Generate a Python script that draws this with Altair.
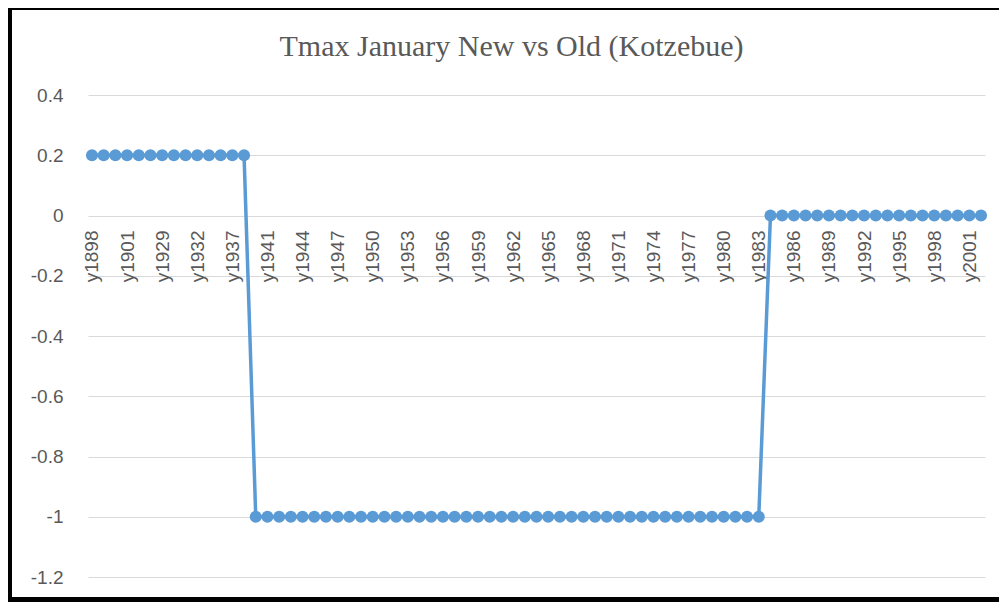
import altair as alt
import pandas as pd

categories = [
    "y1898", "y1899", "y1900", "y1901", "y1902", "y1928", "y1929", "y1930",
    "y1931", "y1932", "y1934", "y1935", "y1937", "y1939", "y1940", "y1941",
    "y1942", "y1943", "y1944", "y1945", "y1946", "y1947", "y1948", "y1949",
    "y1950", "y1951", "y1952", "y1953", "y1954", "y1955", "y1956", "y1957",
    "y1958", "y1959", "y1960", "y1961", "y1962", "y1963", "y1964", "y1965",
    "y1966", "y1967", "y1968", "y1969", "y1970", "y1971", "y1972", "y1973",
    "y1974", "y1975", "y1976", "y1977", "y1978", "y1979", "y1980", "y1981",
    "y1982", "y1983", "y1984", "y1985", "y1986", "y1987", "y1988", "y1989",
    "y1990", "y1991", "y1992", "y1993", "y1994", "y1995", "y1996", "y1997",
    "y1998", "y1999", "y2000", "y2001", "y2002",
]

values = [
    0.2, 0.2, 0.2, 0.2, 0.2, 0.2, 0.2, 0.2, 0.2, 0.2, 0.2, 0.2, 0.2, 0.2,
    -1, -1, -1, -1, -1, -1, -1, -1, -1, -1, -1, -1, -1, -1, -1, -1, -1, -1,
    -1, -1, -1, -1, -1, -1, -1, -1, -1, -1, -1, -1, -1, -1, -1, -1, -1, -1,
    -1, -1, -1, -1, -1, -1, -1, -1,
    0, 0, 0, 0, 0, 0, 0, 0, 0, 0, 0, 0, 0, 0, 0, 0, 0, 0, 0,
]

y_ticks = [-1.2, -1.0, -0.8, -0.6, -0.4, -0.2, 0.0, 0.2, 0.4]
x_label_values = categories[::3]

df = pd.DataFrame({"cat": categories, "val": values})

LINE = "#5B9BD5"
GREY = "#595959"
W, H = 897, 482

x_enc = alt.X(
    "cat:N",
    sort=None,
    scale=alt.Scale(type="point", padding=0.34),
    axis=alt.Axis(
        values=x_label_values,
        labelAngle=270,
        labelFont="Liberation Sans",
        labelFontSize=19,
        labelColor=GREY,
        labelPadding=16,
        ticks=False,
        domain=False,
        grid=False,
        offset=-363,
        title=None,
        labelOverlap=False,
    ),
)
y_enc = alt.Y(
    "val:Q",
    scale=alt.Scale(domain=[-1.2, 0.4], nice=False, zero=False),
    axis=alt.Axis(
        values=y_ticks,
        labelExpr="'' + round(datum.value * 10) / 10",
        labelFont="Liberation Sans",
        labelFontSize=19,
        labelColor=GREY,
        labelPadding=25,
        ticks=False,
        domain=False,
        grid=True,
        gridColor="#D9D9D9",
        gridWidth=1.2,
        title=None,
    ),
)

line = alt.Chart(df).mark_line(color=LINE, strokeWidth=3.5).encode(x=x_enc, y=y_enc)
pts = alt.Chart(df).mark_circle(color=LINE, size=145, opacity=1).encode(x=x_enc, y=y_enc)

one = pd.DataFrame({"k": [0]})
left_b = alt.Chart(one).mark_rect(color="black").encode(
    x=alt.value(-80), x2=alt.value(-76), y=alt.value(-87), y2=alt.value(507)
)
top_b = alt.Chart(one).mark_rect(color="black").encode(
    x=alt.value(-80), x2=alt.value(911), y=alt.value(-87), y2=alt.value(-85)
)
bot_b = alt.Chart(one).mark_rect(color="black").encode(
    x=alt.value(-80), x2=alt.value(911), y=alt.value(502), y2=alt.value(507)
)

chart = (
    alt.layer(line, pts, left_b, top_b, bot_b)
    .properties(
        width=W,
        height=H,
        autosize=alt.AutoSizeParams(type="none"),
        padding={"left": 80, "top": 87, "right": 14, "bottom": 25},
        title=alt.TitleParams(
            "Tmax January New vs Old (Kotzebue)",
            font="Liberation Serif",
            fontSize=30,
            fontWeight="normal",
            color=GREY,
            anchor="middle",
            frame="group",
            baseline="alphabetic",
            offset=-78,
            dx=-25,
        ),
    )
    .configure_view(stroke=None)
)

chart.save("out.html", embed_options={"renderer": "svg", "actions": False})
